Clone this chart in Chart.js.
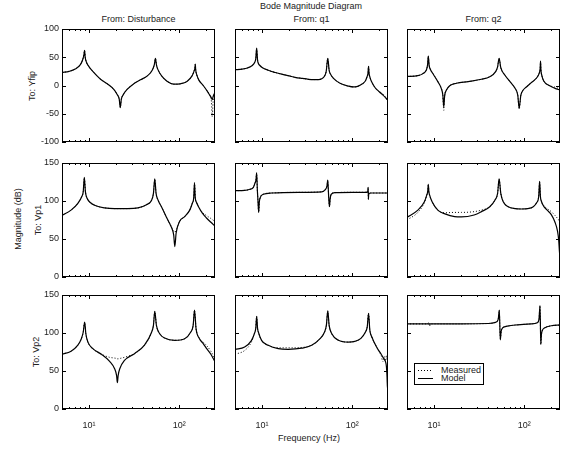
<!DOCTYPE html>
<html>
<head>
    <title>Bode Magnitude Diagram</title>
    <script src="https://cdn.jsdelivr.net/npm/chart.js"></script>
    <style>
        body {
            margin: 0;
            width: 563px;
            height: 450px;
            background: #fff;
            position: relative;
            overflow: hidden;
            font-family: "Liberation Sans", Arial, sans-serif;
        }
        canvas { position: absolute; }
        .lbl {
            position: absolute;
            font-size: 9px;
            color: #222;
            white-space: nowrap;
            transform: translate(-50%, -50%);
        }
        .rot { transform: translate(-50%, -50%) rotate(-90deg); }
        #legend {
            position: absolute;
            left: 414px; top: 363px;
            width: 68px; height: 20px;
            border: 1px solid #000;
            background: #fff;
        }
        #legend .sample { position: absolute; left: 3px; width: 15px; height: 1px; }
        #legend .name { position: absolute; left: 26px; font-size: 9px; color: #222; line-height: 9px; }
    </style>
</head>
<body>
    <div id="labels"></div>

    <script>
        // ---- data ----
        const inputs = ['Disturbance', 'q1', 'q2'];
        const outputs = ['Yfip', 'Vp1', 'Vp2'];
        const seriesNames = ['Measured', 'Model'];

        const freqTicks = [5, 6, 7, 8, 9, 10, 20, 30, 40, 50, 60, 70, 80, 90, 100, 200];
        const xMajor = [10, 100];
        const xMajorLabels = ['10\u00B9', '10\u00B2'];
        const yRangeTop = [-100, 100];
        const yRangeLower = [0, 150];

        // From: Disturbance -> To: Yfip
        const fA = [5, 6, 7, 8, 8.5, 8.75, 8.9, 9.05, 9.3, 10, 11, 13.3, 15.9, 18.8, 20.5, 21.6, 22.2, 22.8, 23.8, 26.4, 31.3, 37.2, 44.3, 50.2, 53, 54.5, 56, 57.8, 64.5, 73.3, 86.9, 103, 122, 139, 146, 149.5, 151, 152.5, 156, 165, 185, 205, 220, 228, 233, 238, 243, 250];
        const modelA = [23, 25, 29, 37, 46, 54, 62, 50, 42, 33, 25, 11.5, 3, -7, -16, -24, -39, -24, -17, -7, 3, 10, 17, 27, 37, 48, 36, 29, 16, 7.5, 2.3, 3, 7, 17, 25, 31, 38, 28, 20, 10, 0, -10, -18, -22, -25, -20, -16, -12];
        const measA = [23, 25, 29, 37, 46, 54, 62, 50, 42, 33, 25, 11.5, 3, -7, -16, -24, -39, -24, -17, -7, 3, 10, 17, 27, 37, 48, 36, 29, 16, 7.5, 2.3, 3, 7, 17, 25, 31, 38, 28, 20, 10, 0, -10, -17, -28, -55, -30, -22, -13];

        // From: q1 -> To: Yfip
        const fB = [5, 6, 7, 7.7, 8.2, 8.5, 8.7, 8.9, 9.1, 9.5, 10, 11.7, 14, 16.5, 20, 23.2, 28, 32.6, 38, 42.2, 46, 49, 51.5, 53.6, 55.5, 58, 62, 73.3, 90.6, 103, 117, 130, 140, 146, 150, 152, 154, 158, 165, 180, 200, 220, 250];
        const modelB = [28, 29, 31.5, 35, 40, 47, 66, 45, 39, 35, 32, 27, 23, 20, 17, 14.5, 12.5, 11, 10.5, 10.5, 12, 16, 25, 48, 27, 19, 12.7, 4, -1, -2.6, -1, 3, 8, 15, 22, 34, 22, 14, 6, -4, -11, -17, -26];
        const measB = [28, 29, 31.5, 35, 40, 47, 66, 45, 39, 35, 32, 27, 23, 20, 17, 14.5, 12.5, 11, 10.5, 10.5, 12, 16, 25, 48, 27, 19, 12.7, 4, -1, -2.6, -1, 3, 8, 15, 22, 34, 22, 14, 6, -4, -11, -15, -28];

        // From: q2 -> To: Yfip
        const fC = [5, 6.6, 7.5, 8.2, 8.45, 8.62, 8.8, 9.0, 9.8, 11, 12, 12.5, 12.8, 13.1, 13.7, 14.9, 17.7, 23.9, 33.5, 41.5, 48.2, 50.7, 52.7, 55, 61, 69.6, 79.2, 84.9, 88, 91.9, 97.6, 105, 120, 140, 147, 150.5, 152, 153.5, 157, 165, 190, 220, 250];
        const modelC = [16, 17.4, 21, 27.4, 36, 52, 36, 30, 20, 6.8, -5, -17, -38, -18, -8, -0.3, 4, 7, 11, 15.6, 24.5, 33, 48, 31.5, 18.6, 6.8, -5, -17, -40, -17, -8, -3, 5, 15, 22, 30, 43, 28, 18, 8, 0, -5, -8];
        const measC = [16, 17.4, 21, 27.4, 36, 52, 36, 30, 20, 6.8, -5, -17, -44, -18, -8, -0.3, 4, 7, 11, 15.6, 24.5, 33, 48, 31.5, 18.6, 6.8, -5, -17, -42, -17, -8, -3, 5, 15, 22, 30, 43, 28, 18, 8, 0, -3, -6];

        // From: Disturbance -> To: Vp1
        const fD = [5, 6.3, 7.5, 8.3, 8.6, 8.85, 9.1, 9.5, 10.3, 11.7, 14.8, 19.2, 26.9, 34.9, 43.3, 49.4, 51.8, 53.6, 55.4, 58.4, 63.6, 72, 78.2, 83, 87, 89.4, 92.6, 101, 115, 131, 140, 145, 148, 151, 156, 164, 181, 200, 225, 250];
        const modelD = [81, 88, 97, 106, 112, 131, 112, 103.5, 98, 94, 91, 90, 90, 91, 95, 101, 110, 129, 110, 101, 92.5, 79, 70.6, 64, 55, 40, 58, 73, 79.4, 88, 97, 104, 124, 104, 98, 92.5, 84, 78, 72, 67];
        const measD = [81, 88, 97, 106, 112, 131, 112, 103.5, 98, 94, 91, 90, 90, 91, 95, 101, 110, 129, 110, 101, 92.5, 79, 70.6, 65, 60, 59, 62, 73, 79.4, 88, 97, 104, 124, 104, 98, 92.5, 85, 81, 77, 73];

        // From: q1 -> To: Vp1
        const fE = [5, 6.4, 7.3, 8.0, 8.3, 8.55, 8.7, 8.85, 9.0, 9.16, 9.3, 9.5, 10.3, 12.8, 25.3, 45.9, 50, 52.5, 53.6, 54.6, 55.9, 57, 58.4, 64.6, 100, 140, 149, 150.5, 151.5, 152.5, 154, 160, 200, 250];
        const modelE = [113.6, 114, 115.4, 118, 123, 128, 137, 115, 100, 85, 98, 104, 108.8, 110.5, 111.4, 112, 114.5, 119.7, 127.6, 110, 92.5, 103, 108.8, 111, 111.4, 111.4, 112, 118, 102, 109, 110, 110.5, 110.5, 110.5];
        const measE = [113.6, 114, 115.4, 118, 123, 128, 137, 115, 100, 85, 98, 104, 108.8, 110.5, 111.4, 112, 114.5, 119.7, 127.6, 110, 92.5, 103, 108.8, 111, 111.4, 111.4, 112, 118, 102, 109, 110, 110.5, 110.5, 110.5];

        // From: q2 -> To: Vp1
        const fF = [5, 6.6, 7.8, 8.3, 8.5, 8.62, 8.75, 8.9, 9.5, 11, 13.2, 16.9, 20.1, 27.8, 33.5, 41.5, 47.3, 50.7, 52.7, 55, 58.6, 66.5, 79.2, 93, 110, 125, 138, 145, 148.5, 151.5, 155, 165, 180, 200, 220, 235, 242, 246, 250];
        const modelF = [78.5, 88, 99, 108, 113, 122, 112, 108, 99, 88, 83, 79.4, 79, 81.6, 86, 92.5, 101, 110, 129, 110, 99, 92.5, 90, 89.5, 90, 92, 98, 106, 126, 106, 100, 93, 88, 82, 72, 60, 48, 35, 25];
        const measF = [75, 85, 98, 108, 113, 122, 112, 108, 99, 88, 84.5, 85, 85, 86, 88, 92.5, 101, 110, 129, 110, 99, 92.5, 90, 89.5, 90, 92, 98, 106, 126, 106, 100, 94, 90, 86, 81, 77, 75, 73, 72];

        // From: Disturbance -> To: Vp2
        const fG = [5, 6.3, 7.5, 8.2, 8.6, 8.93, 9.2, 9.7, 11, 13.7, 16.9, 19.2, 20.2, 20.6, 21.0, 21.9, 24.7, 31.9, 41.2, 49.4, 51.8, 53.6, 55.9, 60.8, 69, 89.4, 115, 134, 143, 148, 154, 168, 185, 200, 225, 250];
        const modelG = [72, 76, 84, 92.5, 101, 114.5, 99, 88, 79.4, 72, 62.7, 53, 44, 34.6, 44, 53, 64, 72.8, 84, 101, 110, 128.5, 110, 99, 93.4, 90.4, 92.5, 101, 110, 130, 105.7, 92.5, 86, 80, 72, 62];
        const measG = [72, 76, 84, 92.5, 101, 114.5, 99, 88, 79.4, 72, 68, 67, 66.5, 66, 66, 66.5, 68, 73, 84, 101, 110, 128.5, 110, 99, 93.4, 90.4, 92.5, 101, 110, 130, 105.7, 93, 88, 84, 76, 66];

        // From: q1 -> To: Vp2
        const fH = [5, 6.4, 7.6, 8.2, 8.5, 8.7, 8.9, 9.1, 9.9, 11.7, 15.1, 19.5, 27.6, 35.5, 44, 49.2, 51.7, 53.6, 55.5, 59.4, 70.4, 90.6, 107, 125, 140, 147, 152, 157, 165, 190, 210, 220, 228, 235, 240, 244, 247, 250];
        const modelH = [78.5, 81.6, 90, 99, 106, 122, 106, 101, 90, 83.8, 79.4, 78.5, 80, 83.8, 92.5, 101, 110, 129, 110, 99, 90.4, 88, 89, 93, 101, 108, 126, 104, 95, 80, 72, 68, 65, 62, 56, 42, 26, 68];
        const measH = [72, 77, 88, 99, 106, 122, 106, 101, 90, 83.8, 80.5, 80.5, 81, 84, 92.5, 101, 110, 129, 110, 99, 90.4, 88, 89, 93, 101, 108, 126, 104, 95, 80, 70, 62, 69, 63, 70, 66, 71, 72];

        // From: q2 -> To: Vp2
        const fI = [5, 8.5, 8.7, 8.9, 9.1, 20, 40, 48, 51.5, 53, 54.3, 55.5, 58, 65, 80, 120, 140, 146, 150, 153, 155.5, 160, 170, 200, 250];
        const modelI = [112, 112, 112, 112, 112, 112, 112.5, 114, 118, 130, 91, 102, 107, 109, 110.5, 112, 113.5, 118, 136, 85, 98, 104, 107, 109.5, 110.5];
        const measI = [112, 112, 114, 109, 112, 112, 112.5, 114, 118, 130, 91, 102, 107, 109, 110.5, 112, 113.5, 118, 136, 85, 98, 104, 107, 109.5, 110.5];

        const panels = [
            [[fA, measA, modelA], [fB, measB, modelB], [fC, measC, modelC]],
            [[fD, measD, modelD], [fE, measE, modelE], [fF, measF, modelF]],
            [[fG, measG, modelG], [fH, measH, modelH], [fI, measI, modelI]]
        ];

        // ---- layout ----
        const colLeft = [62, 235, 407];
        const rowTop = [29, 163, 295];
        const rowHeight = [113, 114, 114];
        const panelWidth = 153;
        const padL = 40, padT = 6, padR = 6, padB = 30;

        Chart.defaults.font.family = '"Liberation Sans", Arial, sans-serif';
        Chart.defaults.font.size = 9;
        Chart.defaults.color = '#222';

        // box around the axes plus inward tick marks on all four sides
        const frameTicks = {
            id: 'frameTicks',
            afterDraw(chart) {
                const ctx = chart.ctx;
                const a = chart.chartArea;
                const x = chart.scales.x, y = chart.scales.y;
                ctx.save();
                ctx.strokeStyle = '#000';
                ctx.lineWidth = 1;
                ctx.beginPath();
                x.ticks.forEach(t => {
                    const px = Math.round(x.getPixelForValue(t.value)) + 0.5;
                    const len = xMajor.includes(t.value) ? 4 : 2;
                    ctx.moveTo(px, a.bottom); ctx.lineTo(px, a.bottom - len);
                    ctx.moveTo(px, a.top); ctx.lineTo(px, a.top + len);
                });
                y.ticks.forEach(t => {
                    const py = Math.round(y.getPixelForValue(t.value)) + 0.5;
                    ctx.moveTo(a.left, py); ctx.lineTo(a.left + 4, py);
                    ctx.moveTo(a.right, py); ctx.lineTo(a.right - 4, py);
                });
                ctx.stroke();
                ctx.strokeRect(Math.round(a.left) + 0.5, Math.round(a.top) + 0.5,
                               Math.round(a.width) - 1, Math.round(a.height) - 1);
                ctx.restore();
            }
        };

        function createPanel(row, col) {
            const [freq, meas, model] = panels[row][col];
            const canvas = document.createElement('canvas');
            const w = panelWidth + padL + padR;
            const h = rowHeight[row] + padT + padB;
            canvas.width = w; canvas.height = h;
            canvas.style.width = w + 'px'; canvas.style.height = h + 'px';
            canvas.style.left = (colLeft[col] - padL) + 'px';
            canvas.style.top = (rowTop[row] - padT) + 'px';
            document.body.appendChild(canvas);

            const range = row === 0 ? yRangeTop : yRangeLower;

            new Chart(canvas, {
                type: 'line',
                data: {
                    datasets: [{
                        label: seriesNames[0],
                        data: freq.map((f, i) => ({ x: f, y: meas[i] })),
                        borderColor: '#000',
                        borderWidth: 1,
                        borderDash: [1, 2],
                        pointRadius: 0,
                        cubicInterpolationMode: 'monotone'
                    }, {
                        label: seriesNames[1],
                        data: freq.map((f, i) => ({ x: f, y: model[i] })),
                        borderColor: '#000',
                        borderWidth: 1.2,
                        pointRadius: 0,
                        cubicInterpolationMode: 'monotone'
                    }]
                },
                options: {
                    responsive: false,
                    animation: false,
                    devicePixelRatio: 1,
                    layout: { padding: { top: padT, right: padR, left: 0, bottom: 0 } },
                    plugins: { legend: { display: false }, tooltip: { enabled: false } },
                    scales: {
                        x: {
                            type: 'logarithmic',
                            min: 5,
                            max: 250,
                            grid: { display: false, drawTicks: false },
                            border: { display: false },
                            afterBuildTicks: s => { s.ticks = freqTicks.map(v => ({ value: v })); },
                            afterFit: s => { s.height = padB; s.paddingLeft = 0; s.paddingRight = 0; },
                            ticks: {
                                display: row === 2,
                                autoSkip: false,
                                maxRotation: 0,
                                padding: 11,
                                callback: v => {
                                    const i = xMajor.indexOf(v);
                                    return i >= 0 ? xMajorLabels[i] : '';
                                }
                            }
                        },
                        y: {
                            min: range[0],
                            max: range[1],
                            grid: { display: false, drawTicks: false },
                            border: { display: false },
                            afterFit: s => { s.width = padL; s.paddingTop = 0; s.paddingBottom = 0; },
                            ticks: { display: col === 0, stepSize: 50, padding: 3 }
                        }
                    }
                },
                plugins: [frameTicks]
            });
        }

        for (let r = 0; r < 3; r++) {
            for (let c = 0; c < 3; c++) createPanel(r, c);
        }

        // ---- titles and axis labels ----
        const labels = document.getElementById('labels');
        function addLabel(text, x, y, rotate) {
            const d = document.createElement('div');
            d.className = 'lbl' + (rotate ? ' rot' : '');
            d.textContent = text;
            d.style.left = x + 'px';
            d.style.top = y + 'px';
            labels.appendChild(d);
        }
        addLabel('Bode Magnitude Diagram', 311, 6);
        inputs.forEach((name, c) => addLabel('From: ' + name, colLeft[c] + panelWidth / 2, 19));
        const rowLabelX = [32, 38, 36];
        outputs.forEach((name, r) => addLabel('To: ' + name, rowLabelX[r], rowTop[r] + rowHeight[r] / 2, true));
        addLabel('Magnitude (dB)', 18, 219, true);
        addLabel('Frequency (Hz)', 309, 438);
    </script>

    <div id="legend">
        <div class="sample" style="top:6px;background:repeating-linear-gradient(to right,#000 0 1px,transparent 1px 3px)"></div>
        <div class="name" style="top:2px">Measured</div>
        <div class="sample" style="top:14px;background:#000"></div>
        <div class="name" style="top:10px">Model</div>
    </div>
</body>
</html>
